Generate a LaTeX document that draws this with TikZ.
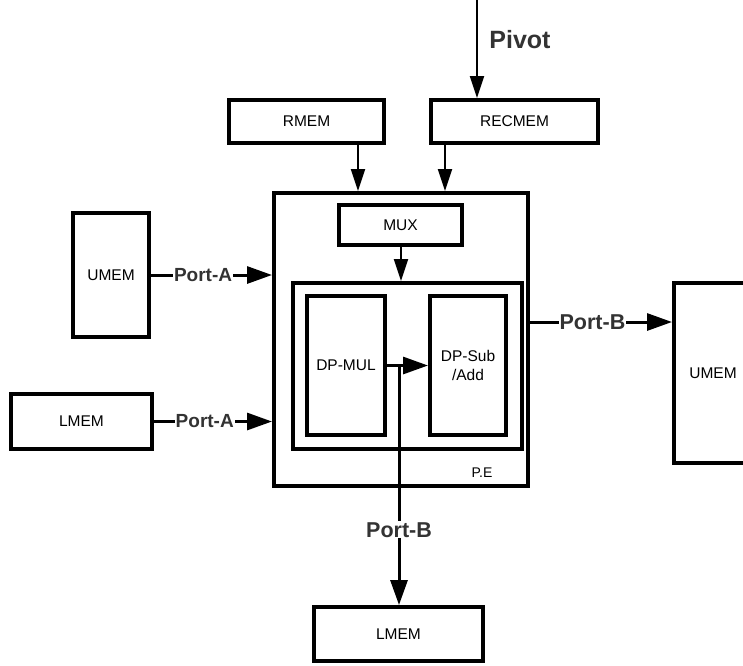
\documentclass[tikz,border=0pt]{standalone}
\usepackage{fontspec}
\setmainfont{Liberation Sans}
\usetikzlibrary{arrows.meta}
\definecolor{labgray}{HTML}{333333}
\begin{document}
\begin{tikzpicture}[x=1pt,y=-1pt,
  box/.style={draw, line width=4pt, inner sep=0pt, align=center,
    font=\fontsize{15.5}{19}\selectfont},
  thinarrow/.style={line width=2pt, -{Triangle[length=22pt,width=14pt]}},
  thickarrow/.style={line width=3pt, -{Triangle[length=25pt,width=17pt]}},
  portlab/.style={fill=white, inner sep=1pt, text=labgray,
    font=\fontsize{19}{22}\selectfont\bfseries},
  portlabbig/.style={portlab, font=\fontsize{21.5}{24}\selectfont\bfseries}]
\useasboundingbox (0,0) rectangle (743,665);

% memories and processing element
\node[box, minimum width=155pt, minimum height=43pt] (rmem) at (306.5,121.5) {RMEM};
\node[box, minimum width=167pt, minimum height=43pt] (recmem) at (514.5,121.5) {RECMEM};
\node[box, minimum width=254pt, minimum height=293pt] (pe) at (401,339.5) {};
\node[box, minimum width=123pt, minimum height=40pt] (mux) at (400.5,225) {MUX};
\node[box, minimum width=229pt, minimum height=166pt] (core) at (407.5,366) {};
\node[box, minimum width=78pt, minimum height=139pt] (mul) at (346,365.5) {DP-MUL};
\node[box, minimum width=76pt, minimum height=139pt] (sub) at (468,365.5) {DP-Sub\\/Add};
\node[box, minimum width=76pt, minimum height=124pt] (umemL) at (111,275) {UMEM};
\node[box, minimum width=141pt, minimum height=55pt] (lmemL) at (81.5,421.5) {LMEM};
\node[box, minimum width=78pt, minimum height=180pt] (umemR) at (713,373) {UMEM};
\node[box, minimum width=169pt, minimum height=54pt] (lmemB) at (398.5,634) {LMEM};
\node[font=\fontsize{14}{16}\selectfont] (pelab) at (482,473) {P.E};
\node[text=labgray, font=\fontsize{25}{28}\selectfont\bfseries] (pivot) at (520,40) {Pivot};

% helper coordinates for vertical/horizontal runs
\coordinate (pivtop) at (477,0);
\coordinate (rx) at (358,0);
\coordinate (cx) at (445,0);
\coordinate (mx) at (401,0);
\coordinate (by) at (0,322);
\coordinate (j) at (399,365.5);

% connectors
\draw[thinarrow] (pivtop) -- (pivtop |- recmem.north);
\draw[thinarrow] (rmem.south -| rx) -- (pe.north -| rx);
\draw[thinarrow] (recmem.south -| cx) -- (pe.north -| cx);
\draw[thinarrow] (mux.south -| mx) -- (core.north -| mx);
\draw[thickarrow] (umemL.east) -- node[portlab, pos=0.43] {Port-A} (pe.west |- umemL.east);
\draw[thickarrow] (lmemL.east) -- node[portlab, pos=0.43] {Port-A} (pe.west |- lmemL.east);
\draw[thickarrow] (pe.east |- by) -- node[portlabbig, pos=0.44] {Port-B} (umemR.west |- by);
\draw[thickarrow] (mul.east) -- (sub.west);
\draw[thickarrow] (j) -- node[portlabbig, pos=0.686] {Port-B} (j |- lmemB.north);
\end{tikzpicture}
\end{document}
